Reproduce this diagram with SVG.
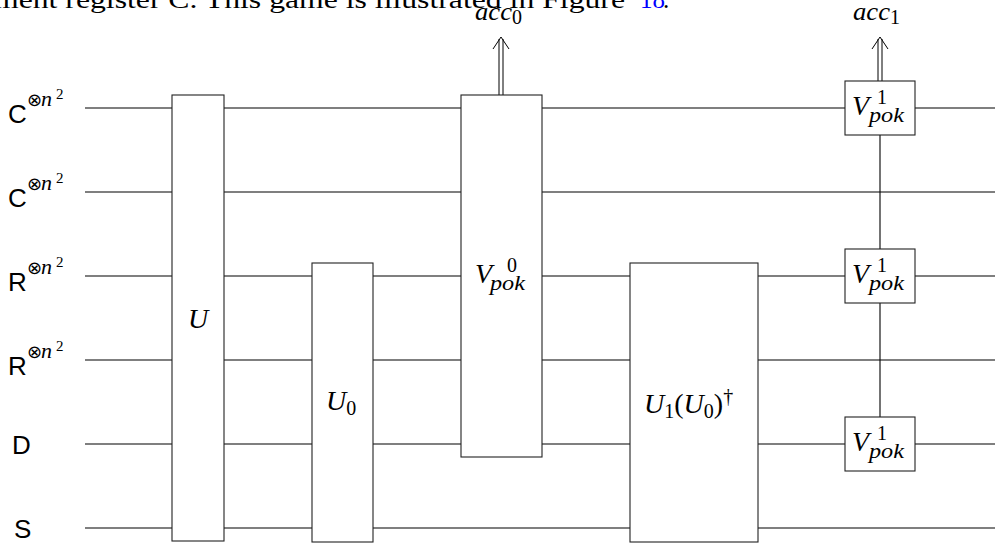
<svg xmlns="http://www.w3.org/2000/svg" width="995" height="547" viewBox="0 0 995 547">
<style>
.wire{stroke:#000;stroke-width:1.1;fill:none}
.box{fill:#fff;stroke:#222;stroke-width:1.1}
.m{font-family:"Liberation Serif",serif;font-size:28px;fill:#000}
.i{font-style:italic}
.s{font-size:20px}
.lab{font-family:"Liberation Sans",sans-serif;font-size:26px;fill:#000}
.sup{font-family:"DejaVu Sans",sans-serif;font-size:18px}
.body{font-family:"Liberation Serif",serif;font-size:25px;fill:#000}
.arr{stroke:#000;stroke-width:1;fill:none}
</style>
<rect width="995" height="547" fill="#fff"/>
<text class="body" x="-6" y="8" textLength="631" lengthAdjust="spacingAndGlyphs">ment register C. This game is illustrated in Figure</text>
<text class="body" x="640" y="8" style="fill:#0000ff">18</text>
<text class="body" x="663" y="8">.</text>
<g id="labels">
<g id="l1"><text class="lab" x="8" y="123">C</text><text class="sup" x="27" y="106">⊗</text><text class="m i" x="41" y="106" style="font-size:22px">n</text><text class="m" x="56" y="99" style="font-size:15px">2</text></g>
<g id="l2"><text class="lab" x="8" y="207">C</text><text class="sup" x="27" y="190">⊗</text><text class="m i" x="41" y="190" style="font-size:22px">n</text><text class="m" x="56" y="183" style="font-size:15px">2</text></g>
<g id="l3"><text class="lab" x="8" y="291">R</text><text class="sup" x="27" y="274">⊗</text><text class="m i" x="41" y="274" style="font-size:22px">n</text><text class="m" x="56" y="267" style="font-size:15px">2</text></g>
<g id="l4"><text class="lab" x="8" y="375">R</text><text class="sup" x="27" y="358">⊗</text><text class="m i" x="41" y="358" style="font-size:22px">n</text><text class="m" x="56" y="351" style="font-size:15px">2</text></g>
<g id="l5"><text class="lab" x="12" y="454">D</text></g>
<g id="l6"><text class="lab" x="14" y="538">S</text></g>
</g>
<g id="connectors">
<line class="wire" x1="85" y1="108" x2="995" y2="108"/>
<line class="wire" x1="85" y1="192" x2="995" y2="192"/>
<line class="wire" x1="85" y1="276" x2="995" y2="276"/>
<line class="wire" x1="85" y1="360" x2="995" y2="360"/>
<line class="wire" x1="85" y1="444" x2="995" y2="444"/>
<line class="wire" x1="85" y1="528" x2="995" y2="528"/>
<line class="wire" x1="880" y1="135" x2="880" y2="417"/>
<line class="arr" x1="499" y1="95" x2="499" y2="39"/>
<line class="arr" x1="503" y1="95" x2="503" y2="39"/>
<polyline class="arr" points="493,49 501,37 509,49"/>
<line class="arr" x1="878" y1="81" x2="878" y2="39"/>
<line class="arr" x1="882" y1="81" x2="882" y2="39"/>
<polyline class="arr" points="872,49 880,37 888,49"/>
</g>
<g id="U"><rect class="box" x="172" y="95" width="52" height="446"/><text class="m i" x="198" y="328" text-anchor="middle">U</text></g>
<g id="U0"><rect class="box" x="312" y="263" width="61" height="279"/><text class="m" x="326" y="410"><tspan class="i">U</tspan><tspan class="s" dy="5">0</tspan></text></g>
<g id="Vpok0"><rect class="box" x="461" y="95" width="81" height="362"/><text class="m i" x="475" y="283">V</text><text class="m s" x="507" y="272">0</text><text class="m i s" x="490" y="290" textLength="35" lengthAdjust="spacingAndGlyphs">pok</text></g>
<g id="U1U0"><rect class="box" x="630" y="263" width="128" height="279"/><text class="m" x="644" y="413"><tspan class="i">U</tspan><tspan class="s" dy="5">1</tspan><tspan dy="-5">(</tspan><tspan class="i">U</tspan><tspan class="s" dy="5">0</tspan><tspan dy="-5">)</tspan><tspan class="s" dy="-10">†</tspan></text></g>
<g id="Vpok1a"><rect class="box" x="845" y="81" width="70" height="54"/><text class="m i" x="852" y="115">V</text><text class="m s" x="877" y="104">1</text><text class="m i s" x="869" y="122" textLength="35" lengthAdjust="spacingAndGlyphs">pok</text></g>
<g id="Vpok1b"><rect class="box" x="845" y="249" width="70" height="54"/><text class="m i" x="852" y="283">V</text><text class="m s" x="877" y="272">1</text><text class="m i s" x="869" y="290" textLength="35" lengthAdjust="spacingAndGlyphs">pok</text></g>
<g id="Vpok1c"><rect class="box" x="845" y="417" width="70" height="54"/><text class="m i" x="852" y="451">V</text><text class="m s" x="877" y="440">1</text><text class="m i s" x="869" y="458" textLength="35" lengthAdjust="spacingAndGlyphs">pok</text></g>
<g id="acc0"><text class="m i" x="475" y="20" style="font-size:26px" textLength="37" lengthAdjust="spacingAndGlyphs">acc</text><text class="m s" x="512" y="24">0</text></g>
<g id="acc1"><text class="m i" x="853" y="20" style="font-size:26px" textLength="37" lengthAdjust="spacingAndGlyphs">acc</text><text class="m s" x="890" y="24">1</text></g>
</svg>
